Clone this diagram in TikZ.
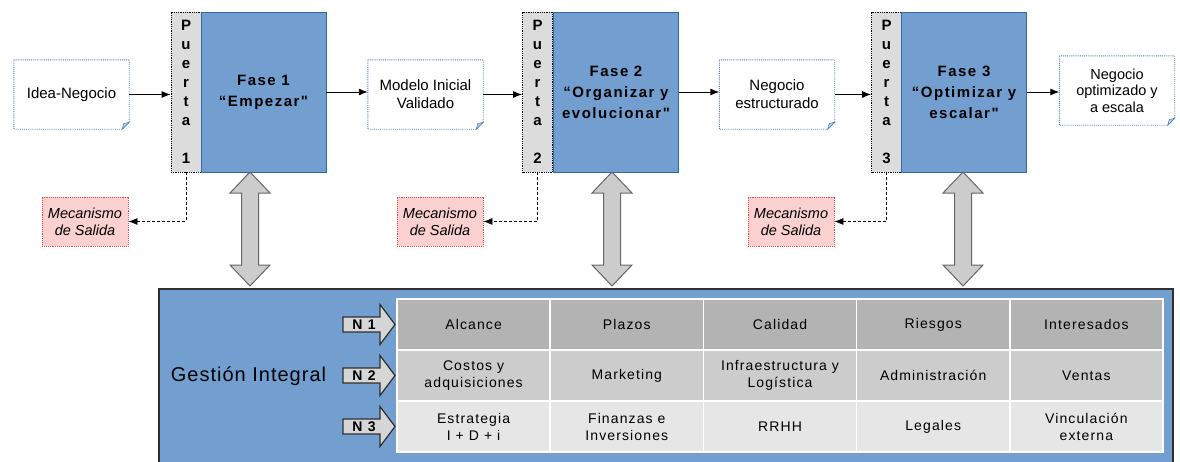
\documentclass[tikz,border=0pt]{standalone}
\usepackage{fontspec}
\setmainfont{Liberation Sans}
\newfontfamily\spacedfont[LetterSpace=10]{Liberation Sans}
\newfontfamily\cellfont[LetterSpace=8]{Liberation Sans}
\newfontfamily\titlefont[LetterSpace=5]{Liberation Sans}
\usetikzlibrary{calc,arrows.meta}

\definecolor{faseblue}{HTML}{729FCF}
\definecolor{faseedge}{HTML}{3465A4}
\definecolor{gategray}{HTML}{DCDCDC}
\definecolor{docblue}{HTML}{4A7EBB}
\definecolor{foldblue}{HTML}{B4CBEA}
\definecolor{exitred}{HTML}{EE4444}
\definecolor{exitpink}{HTML}{FBD0D0}
\definecolor{arrowgray}{HTML}{CCCCCC}
\definecolor{arrowedge}{HTML}{666666}
\definecolor{boxedge}{HTML}{2F2F2F}
\definecolor{rowa}{HTML}{B3B3B3}
\definecolor{rowb}{HTML}{CCCCCC}
\definecolor{rowc}{HTML}{E6E6E6}
\definecolor{nfill}{HTML}{D6D6D6}

\begin{document}
\begin{tikzpicture}[x=1pt,y=-1pt,
  fase/.style={draw=faseedge, line width=0.8pt, fill=faseblue, minimum width=125pt,
    minimum height=160pt, align=center, inner sep=0pt,
    font=\spacedfont\fontsize{15}{21}\selectfont\bfseries},
  gate/.style={draw=black, densely dotted, line width=0.8pt, fill=gategray,
    minimum width=30pt, minimum height=160pt, align=center, inner sep=0pt,
    font=\fontsize{15}{19}\selectfont\bfseries},
  docbox/.style={minimum width=115pt, minimum height=69pt, align=center, inner sep=0pt,
    font=\fontsize{15}{18}\selectfont},
  docline/.style={draw=docblue, densely dotted, line width=0.9pt},
  fold/.style={draw=docblue, line width=0.5pt, fill=foldblue},
  exitbox/.style={draw=exitred, densely dotted, line width=0.9pt, fill=exitpink,
    minimum width=86pt, minimum height=49pt, align=center, inner sep=0pt,
    font=\fontsize{14.5}{17}\selectfont\itshape},
  flow/.style={-{Latex[length=9pt,width=7pt]}, line width=0.9pt, black},
  exitflow/.style={-{Latex[length=9pt,width=7pt]}, densely dashed, line width=0.8pt, black},
  barrow/.style={draw=arrowedge, fill=arrowgray, line width=1pt, line join=miter},
  mgmt/.style={draw=boxedge, line width=1.5pt, fill=faseblue, minimum width=1014pt,
    minimum height=190pt, inner sep=0pt},
  cell/.style={draw=white, line width=1.5pt, minimum width=153.2pt, minimum height=51pt,
    align=center, inner sep=0pt, font=\cellfont\fontsize{14}{17}\selectfont},
  narrow/.style={draw=boxedge, line width=1.2pt, fill=nfill, line join=miter},
  nlabel/.style={inner sep=0pt, font=\spacedfont\fontsize{14}{15}\selectfont\bfseries}
]
\useasboundingbox (0,0) rectangle (1180,461);

% ---- management block (drawn first, runs off the bottom edge)
\node[mgmt, anchor=north west] (gi) at (158,288) {};
\node[font=\titlefont\fontsize{20}{22}\selectfont] (gt) at (248.5,376) {Gestión Integral};

% ---- table of management areas
\node[cell, fill=rowa] (c11) at (473.6,324.5) {Alcance};
\node[cell, fill=rowa] (c12) at (626.8,324.5) {Plazos};
\node[cell, fill=rowa] (c13) at (780.0,324.5) {Calidad};
\node[cell, fill=rowa] (c14) at (933.2,324.5) {Riesgos};
\node[cell, fill=rowa] (c15) at (1086.4,324.5) {Interesados};
\node[cell, fill=rowb] (c21) at (473.6,375.5) {Costos y\\adquisiciones};
\node[cell, fill=rowb] (c22) at (626.8,375.5) {Marketing};
\node[cell, fill=rowb] (c23) at (780.0,375.5) {Infraestructura y\\Logística};
\node[cell, fill=rowb] (c24) at (933.2,375.5) {Administración};
\node[cell, fill=rowb] (c25) at (1086.4,375.5) {Ventas};
\node[cell, fill=rowc] (c31) at (473.6,426.5) {Estrategia\\I + D + i};
\node[cell, fill=rowc] (c32) at (626.8,426.5) {Finanzas e\\Inversiones};
\node[cell, fill=rowc] (c33) at (780.0,426.5) {RRHH};
\node[cell, fill=rowc] (c34) at (933.2,426.5) {Legales};
\node[cell, fill=rowc] (c35) at (1086.4,426.5) {Vinculación\\externa};

% ---- level markers
\foreach \i/\yy in {1/324.5,2/375.5,3/426.5} {
  \coordinate (n\i) at (362,\yy);
  \draw[narrow] ($(n\i)+(-19,-7.5)$) -- ($(n\i)+(18,-7.5)$) -- ($(n\i)+(18,-20)$)
    -- ($(n\i)+(33,0)$) -- ($(n\i)+(18,20)$) -- ($(n\i)+(18,7.5)$)
    -- ($(n\i)+(-19,7.5)$) -- cycle;
  \node[nlabel] (nl\i) at ($(n\i)+(2,0.5)$) {N \i};
}

% ---- gates and phases
\node[gate] (p1) at (186,92) {P\\u\\e\\r\\t\\a\\[19pt]1};
\node[fase] (f1) at (263.5,92) {Fase 1\\“Empezar"};
\node[gate] (p2) at (537.5,92) {P\\u\\e\\r\\t\\a\\[19pt]2};
\node[fase] (f2) at (616,92) {Fase 2\\“Organizar y\\evolucionar"};
\node[gate] (p3) at (886.5,92) {P\\u\\e\\r\\t\\a\\[19pt]3};
\node[fase] (f3) at (964,92) {Fase 3\\“Optimizar y\\escalar"};

% ---- documents between phases
\node[docbox] (d1) at (71.5,94.5) {Idea-Negocio};
\node[docbox] (d2) at (425.5,94.5) {Modelo Inicial\\Validado};
\node[docbox] (d3) at (777,94.5) {Negocio\\estructurado};
\node[docbox, font=\fontsize{14.5}{16.5}\selectfont] (d4) at (1117,90.5) {Negocio\\optimizado y\\a escala};
\foreach \d in {d1,d2,d3,d4} {
  \draw[docline] (\d.north west) -- (\d.north east) -- ($(\d.south east)+(0,-7)$)
    -- ($(\d.south east)+(-7,0)$) -- (\d.south west) -- cycle;
  \draw[fold] ($(\d.south east)+(-7,0)$) -- ($(\d.south east)+(-5.5,-5.5)$)
    -- ($(\d.south east)+(0,-7)$) -- cycle;
}

% ---- exit mechanisms
\node[exitbox] (m1) at (85,221.5) {Mecanismo\\de Salida};
\node[exitbox] (m2) at (440,221.5) {Mecanismo\\de Salida};
\node[exitbox] (m3) at (791,221.5) {Mecanismo\\de Salida};

% ---- main flow
\draw[flow] (d1.east) -- (d1.east -| p1.west);
\draw[flow] (f1.east) -- (f1.east -| d2.west);
\draw[flow] (d2.east) -- (d2.east -| p2.west);
\draw[flow] (f2.east) -- (f2.east -| d3.west);
\draw[flow] (d3.east) -- (d3.east -| p3.west);
\draw[flow] (f3.east) -- (f3.east -| d4.west);

% ---- exits from the gates
\draw[exitflow] (p1.south) |- (m1.east);
\draw[exitflow] (p2.south) |- (m2.east);
\draw[exitflow] (p3.south) |- (m3.east);

% ---- phase <-> management double arrows
\foreach \i/\xx in {1/250,2/612,3/963} {
  \coordinate (up\i) at (\xx,172);
  \draw[barrow] (up\i) -- ($(up\i)+(20,21)$) -- ($(up\i)+(8.5,21)$) -- ($(up\i)+(8.5,93)$)
    -- ($(up\i)+(20,93)$) -- ($(up\i)+(0,114)$) -- ($(up\i)+(-20,93)$)
    -- ($(up\i)+(-8.5,93)$) -- ($(up\i)+(-8.5,21)$) -- ($(up\i)+(-20,21)$) -- cycle;
}
\end{tikzpicture}
\end{document}
